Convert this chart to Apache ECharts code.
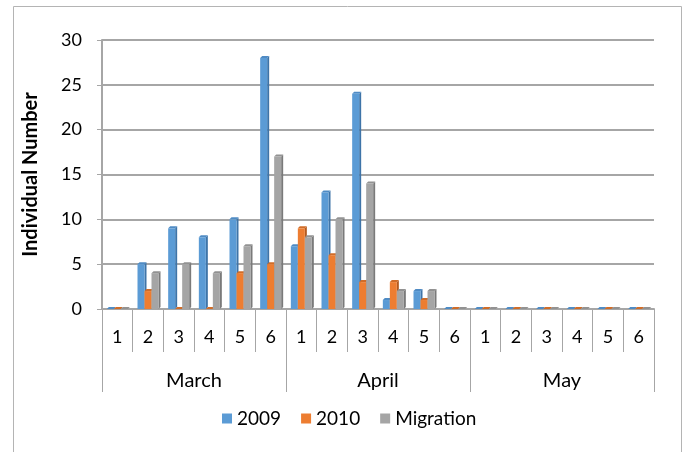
<!DOCTYPE html>
<html>
<head>
<meta charset="utf-8">
<script src="https://cdn.jsdelivr.net/npm/echarts@6/dist/echarts.min.js"></script>
<style>
html,body{margin:0;padding:0;background:#fff;}
#c{width:688px;height:452px;}
</style>
</head>
<body>
<div id="c"></div>
<script>
var days = ['1','2','3','4','5','6','1','2','3','4','5','6','1','2','3','4','5','6'];
var months = ['March','April','May'];
var s2009 = [0,5,9,8,10,28, 7,13,24,1,2,0, 0,0,0,0,0,0];
var s2010 = [0,2,0,0,4,5, 9,6,3,3,1,0, 0,0,0,0,0,0];
var sMig  = [0,4,5,4,7,17, 8,10,14,2,2,0, 0,0,0,0,0,0];
var yTicks = [0,5,10,15,20,25,30];

var FONT = 'Lato';
var BW = 7, D = 2;
var colors = ['#5B9BD5','#ED7D31','#A5A5A5'];
var sides = ['#3E74A8','#B35A1F','#7A7A7A'];
var tops  = ['#4F8BC4','#D06C28','#929292'];

function depth(k){
  return function(params, api){
    var i = api.value(0), v = api.value(1);
    var c = api.coord([i, v]);
    var z = api.coord([i, 0]);
    var xl = c[0] + (k-1)*BW - BW/2, xr = xl + BW;
    var yt = c[1], yb = z[1];
    return {type:'group', children:[
      {type:'polygon', shape:{points:[[xr,yt],[xr+D,yt-D],[xr+D,yb-D],[xr,yb]]}, style:{fill:sides[k]}},
      {type:'polygon', shape:{points:[[xl,yt],[xl+D,yt-D],[xr+D,yt-D],[xr,yt]]}, style:{fill:tops[k]}}
    ]};
  };
}
function pairs(a){ return a.map(function(v,i){return [i,v];}); }

var chart = echarts.init(document.getElementById('c'));
chart.setOption({
  animation:false,
  textStyle:{fontFamily:FONT},
  graphic:[{type:'rect', shape:{x:13.5,y:6.5,width:668,height:470}, style:{fill:null, stroke:'#b4b4b4', lineWidth:1}, z:-1}],
  legend:{
    data:['2009','2010','Migration'], bottom:19, left:217,
    icon:'rect', itemWidth:10, itemHeight:10, itemGap:20, itemStyle:{borderWidth:0},
    textStyle:{fontFamily:FONT, fontSize:19, color:'#000'}
  },
  grid:{left:102, right:34, top:40, bottom:143},
  xAxis:[{
    type:'category', data:days, position:'bottom',
    axisLine:{show:true, lineStyle:{color:'#a6a6a6', width:2}},
    axisTick:{show:true, interval:0, length:43, lineStyle:{color:'#a6a6a6', width:1}},
    axisLabel:{interval:0, margin:19, fontSize:18, color:'#000', fontFamily:FONT}
  },{
    type:'category', data:months, position:'bottom',
    axisLine:{show:false},
    axisTick:{show:true, interval:0, length:83, lineStyle:{color:'#a6a6a6', width:1}},
    axisLabel:{interval:0, margin:62, fontSize:20, color:'#000', fontFamily:FONT}
  }],
  yAxis:{
    type:'value', min:0, max:30, interval:5,
    name:'Individual Number', nameLocation:'middle', nameGap:61,
    nameTextStyle:{fontFamily:FONT, fontWeight:'bold', fontSize:20, color:'#000'},
    axisLine:{show:true, lineStyle:{color:'#a6a6a6', width:2}},
    axisTick:{show:true, length:5, lineStyle:{color:'#a6a6a6'}},
    axisLabel:{margin:20, fontSize:18, color:'#000', fontFamily:FONT,
      formatter:function(v){ return yTicks.indexOf(v)>=0 ? String(v) : ''; }},
    splitLine:{show:true, lineStyle:{color:'#a6a6a6', width:2}}
  },
  series:[
    {type:'custom', name:'d0', renderItem:depth(0), data:pairs(s2009), z:1, silent:true},
    {type:'custom', name:'d1', renderItem:depth(1), data:pairs(s2010), z:1, silent:true},
    {type:'custom', name:'d2', renderItem:depth(2), data:pairs(sMig), z:1, silent:true},
    {type:'bar', name:'2009', data:s2009, barWidth:BW, barGap:'0%', itemStyle:{color:colors[0]}, z:3},
    {type:'bar', name:'2010', data:s2010, barWidth:BW, barGap:'0%', itemStyle:{color:colors[1]}, z:3},
    {type:'bar', name:'Migration', data:sMig, barWidth:BW, barGap:'0%', itemStyle:{color:colors[2]}, z:3}
  ]
});
</script>
</body>
</html>
